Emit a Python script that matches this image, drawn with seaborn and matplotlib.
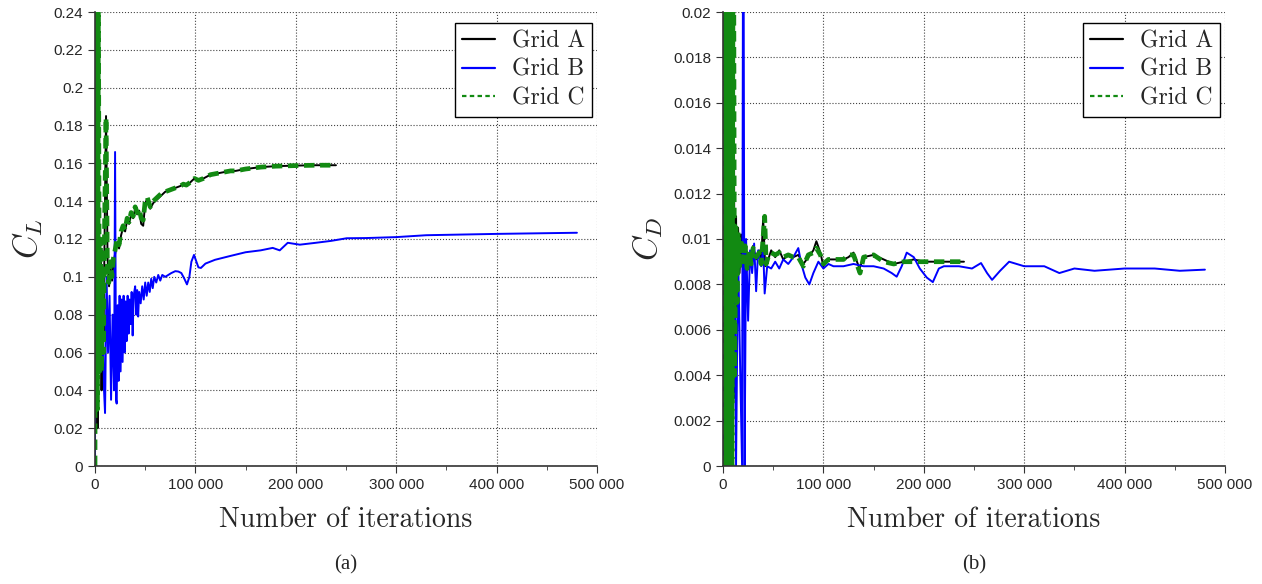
import numpy as np
import pandas as pd
import matplotlib
matplotlib.use("Agg")
import matplotlib.pyplot as plt
from matplotlib.ticker import FuncFormatter, MultipleLocator
import seaborn as sns

# ---- data ----
# lift coefficient
cl_a_iter = [0, 800, 1700, 2500, 3500, 4500, 5500, 6500, 7500, 8500, 9500, 11000, 12500, 14000,
             15500, 17000, 18500, 20000, 22000, 24000, 26000, 28000, 30000, 32000, 34000, 36000,
             38000, 40000, 42000, 44000, 46000, 48000, 50000, 52000, 55000, 58000, 62000, 66000,
             70000, 75000, 80000, 85000, 88000, 91000, 95000, 99000, 103000, 108000, 115000,
             125000, 135000, 140000, 150000, 165000, 180000, 200000, 220000, 240000]
cl_a = [0.0, 0.5, 0.35, 0.02, 0.26, 0.06, 0.11, 0.04, 0.09, 0.07, 0.12, 0.185, 0.11, 0.095,
        0.105, 0.098, 0.108, 0.112, 0.118, 0.115, 0.122, 0.126, 0.124, 0.130, 0.128, 0.133,
        0.131, 0.136, 0.133, 0.135, 0.128, 0.127, 0.139, 0.141, 0.136, 0.139, 0.141, 0.143,
        0.145, 0.146, 0.147, 0.148, 0.149, 0.148, 0.150, 0.152, 0.151, 0.152, 0.154,
        0.155, 0.156, 0.156, 0.157, 0.158, 0.1585, 0.1588, 0.159, 0.159]

cl_b_iter = [0, 1000, 2000, 3000, 4500, 6000, 7500, 9000, 10000, 11500, 13000, 14500, 16000,
             17500, 19000, 20000, 21000, 21600, 22500, 23500, 24500, 25500, 26500, 27500, 28500,
             29500, 30500, 31500, 32500, 33500, 34500, 35500, 36500, 37500, 38500, 40000, 41000,
             42000, 43000, 44000, 45500, 47000, 48500, 50000, 51500, 53000, 54500, 56000, 57500,
             59000, 61000, 63000, 65000, 67000, 70000, 73000, 76000, 80000, 83000, 86000, 89000,
             91600, 94000, 96000, 98600, 101000, 103000, 105500, 110000, 119500, 134500, 150000,
             165000, 177000, 184000, 192000, 204000, 220000, 235000, 250700, 270000, 300000,
             330000, 350000, 380000, 400000, 440000, 480000]
cl_b = [0.0, 0.5, 0.08, 0.06, 0.10, 0.05, 0.09, 0.04, 0.028, 0.10, 0.06, 0.09, 0.035, 0.08,
        0.04, 0.166, 0.035, 0.033, 0.085, 0.045, 0.090, 0.050, 0.088, 0.055, 0.090,
        0.060, 0.087, 0.066, 0.090, 0.070, 0.088, 0.075, 0.092, 0.069, 0.090, 0.095, 0.080,
        0.093, 0.079, 0.092, 0.086, 0.095, 0.088, 0.097, 0.090, 0.097, 0.092, 0.099, 0.094,
        0.100, 0.097, 0.101, 0.098, 0.101, 0.100, 0.101, 0.102, 0.103, 0.1028, 0.102, 0.099,
        0.096, 0.100, 0.108, 0.1116, 0.108, 0.105, 0.1047, 0.107, 0.109, 0.111, 0.113,
        0.114, 0.1153, 0.114, 0.118, 0.117, 0.118, 0.119, 0.1204, 0.1205, 0.121,
        0.122, 0.1222, 0.1225, 0.1227, 0.123, 0.1233]

cl_c_iter = [0, 700, 1600, 2400, 3400, 4400, 5400, 6400, 7400, 8400, 9600, 11000, 12400, 13800,
             15200, 16800, 18400, 20000, 22000, 24000, 26000, 28000, 30000, 32000, 34000, 36000,
             38000, 40000, 42000, 44000, 46000, 48000, 50000, 52000, 55000, 58000, 62000, 66000,
             70000, 75000, 80000, 85000, 88000, 91000, 95000, 99000, 103000, 108000, 115000,
             125000, 135000, 140000, 150000, 165000, 180000, 200000, 220000, 240000]
cl_c = [0.0, 0.5, 0.30, 0.03, 0.25, 0.05, 0.12, 0.05, 0.10, 0.06, 0.13, 0.184, 0.10, 0.097,
        0.108, 0.100, 0.110, 0.114, 0.120, 0.117, 0.124, 0.127, 0.125, 0.131, 0.129, 0.134,
        0.132, 0.137, 0.134, 0.136, 0.131, 0.130, 0.140, 0.142, 0.137, 0.140, 0.142, 0.144,
        0.145, 0.146, 0.147, 0.148, 0.149, 0.1485, 0.150, 0.152, 0.151, 0.152, 0.154,
        0.155, 0.156, 0.156, 0.157, 0.158, 0.1585, 0.1588, 0.159, 0.159]

# drag coefficient
cd_a_iter = [0, 1500, 3000, 4500, 6000, 7500, 9000, 10300, 11500, 13000, 14000, 15000, 16500,
             18000, 20000, 22000, 24000, 26000, 28000, 30000, 33000, 36000, 38000, 40000, 42000,
             45000, 48000, 52000, 56000, 60000, 65000, 70000, 75000, 80000, 85000, 90000, 93000,
             97000, 100000, 105000, 110000, 120000, 125000, 130000, 136000, 140000, 150000,
             160000, 170000, 180000, 190000, 200000, 210000, 220000, 230000, 240000]
cd_a = [0.0, 0.05, 0.0, 0.04, 0.0, 0.03, 0.001, 0.03, 0.003, 0.011, 0.007, 0.0105, 0.0085,
        0.0102, 0.0088, 0.0098, 0.0086, 0.0094, 0.0088, 0.0097, 0.0091, 0.0095, 0.0090, 0.0109,
        0.0088, 0.0091, 0.0095, 0.0092, 0.0095, 0.0091, 0.0093, 0.0092, 0.0093, 0.0089, 0.0092,
        0.0095, 0.0099, 0.0094, 0.0088, 0.0091, 0.0091, 0.0091, 0.0092, 0.0094, 0.0087,
        0.0092, 0.0093, 0.0091, 0.0089, 0.0090, 0.0091, 0.0090, 0.0090, 0.0090, 0.0090,
        0.0090]

cd_b_iter = [0, 1500, 3700, 5000, 7000, 9000, 10000, 11500, 13000, 15000, 17000, 19000, 20200,
             21500, 23000, 25000, 27000, 29000, 31000, 33000, 35000, 38000, 40000, 41500, 44000,
             48000, 52000, 56000, 60000, 65000, 70000, 75000, 78000, 82000, 86000, 90000, 95000,
             100000, 105000, 110000, 120000, 130000, 140000, 150000, 160000, 168000, 173000,
             178000, 183000, 190000, 196000, 203000, 209000, 215000, 220000, 235000, 248000,
             257000, 263000, 268000, 276000, 285000, 300000, 320000, 335000, 350000, 370000,
             400000, 430000, 455000, 480000]
cd_b = [0.0, 0.0, 0.03, 0.0, 0.001, 0.0095, 0.002, 0.010, 0.0, 0.0095, 0.0045, 0.0, 0.03,
        0.0, 0.010, 0.0064, 0.0095, 0.0085, 0.0098, 0.0077, 0.0095, 0.0088, 0.0096, 0.0076,
        0.0088, 0.0087, 0.0090, 0.0087, 0.0091, 0.0089, 0.0092, 0.0096, 0.0089, 0.0083, 0.0080,
        0.0085, 0.0090, 0.0087, 0.0089, 0.0088, 0.0088, 0.0089, 0.0088, 0.0088, 0.0087,
        0.0085, 0.00834, 0.0088, 0.0094, 0.0092, 0.0087, 0.0083, 0.0081, 0.0087, 0.0088,
        0.0088, 0.0087, 0.00894, 0.0085, 0.0082, 0.0086, 0.0090, 0.0088, 0.0088, 0.0085,
        0.0087, 0.0086, 0.0087, 0.0087, 0.0086, 0.00865]

cd_c_iter = [0, 1500, 3000, 4500, 6000, 7500, 9000, 10300, 11500, 13000, 14000, 15000, 16500,
             18000, 20000, 22000, 24000, 26000, 28000, 30000, 33000, 36000, 38000, 41500, 43000,
             45000, 48000, 52000, 56000, 60000, 65000, 70000, 75000, 80000, 85000, 90000, 93000,
             97000, 100000, 105000, 110000, 120000, 125000, 130000, 136500, 140000, 150000,
             160000, 170000, 180000, 190000, 200000, 210000, 220000, 230000, 240000]
cd_c = [0.0, 0.05, 0.0, 0.04, 0.0, 0.03, 0.0, 0.03, 0.004, 0.0105, 0.0072, 0.0103, 0.0087,
        0.0100, 0.0090, 0.0097, 0.0087, 0.0095, 0.0089, 0.0096, 0.0092, 0.0094, 0.0089, 0.0110,
        0.0089, 0.0092, 0.0094, 0.0093, 0.0094, 0.0092, 0.0093, 0.0092, 0.0092, 0.0088, 0.0093,
        0.0094, 0.0096, 0.0093, 0.0089, 0.0091, 0.0091, 0.0091, 0.0093, 0.0093, 0.0085,
        0.0092, 0.0093, 0.0090, 0.0089, 0.0090, 0.0090, 0.0090, 0.0090, 0.0090, 0.0090,
        0.0090]

grids = ["Grid A", "Grid B", "Grid C"]
colors = {"Grid A": "black", "Grid B": "#0000ff", "Grid C": "#128a12"}

sns.set_style("white")
plt.rcParams['mathtext.fontset'] = 'cm'

fig = plt.figure(figsize=(12.62, 5.84), dpi=100)
ax1 = fig.add_axes([95 / 1262, 118 / 584, 502 / 1262, 454 / 584])
ax2 = fig.add_axes([723 / 1262, 118 / 584, 502 / 1262, 454 / 584])


def thousands(v, pos):
    return f"{int(v):,}".replace(",", " ")


def draw(ax, series, ymax, ystep, ylabel, tag):
    for name, (xs, ys) in zip(grids, series):
        if name == "Grid C":
            sns.lineplot(x=xs, y=ys, ax=ax, color=colors[name], lw=3.4,
                         dashes=False, label=name, estimator=None, sort=False)
            ax.lines[-1].set_linestyle((0, (2.2, 1.2)))
        else:
            sns.lineplot(x=xs, y=ys, ax=ax, color=colors[name], lw=1.4,
                         label=name, estimator=None, sort=False)
    ax.set_xlim(0, 500000)
    ax.set_ylim(0, ymax)
    ax.xaxis.set_major_locator(MultipleLocator(100000))
    ax.xaxis.set_minor_locator(MultipleLocator(50000))
    ax.yaxis.set_major_locator(MultipleLocator(ystep))
    ax.xaxis.set_major_formatter(FuncFormatter(thousands))
    ax.yaxis.set_major_formatter(FuncFormatter(lambda v, p: f"{v:g}"))
    ax.grid(True, which="major", color="#444444", ls=":", lw=0.8)
    for s in ["top", "right"]:
        ax.spines[s].set_visible(False)
    for s in ["left", "bottom"]:
        ax.spines[s].set_color("#333333")
        ax.spines[s].set_linewidth(1.2)
    ax.tick_params(axis="both", which="both", direction="out", bottom=True, left=True,
                   labelsize=11, color="#333333")
    ax.tick_params(axis="both", which="major", length=5)
    ax.tick_params(axis="x", which="minor", length=3)
    for lab in ax.get_xticklabels() + ax.get_yticklabels():
        lab.set_family("Liberation Sans")
    ax.set_xlabel("Number of iterations", family="cmr10", fontsize=20, labelpad=11)
    ax.set_ylabel(ylabel, fontsize=24, labelpad=6)
    ax.text(0.5, -0.218, tag, transform=ax.transAxes, ha="center", va="center",
            family="Liberation Serif", fontsize=15)
    leg = ax.legend(loc="upper right", frameon=True,
                    fancybox=False, edgecolor="black", framealpha=1,
                    prop={"family": "cmr10", "size": 17}, handlelength=1.4,
                    borderpad=0.3, labelspacing=0.28, handletextpad=0.7,
                    borderaxespad=0.0, bbox_to_anchor=(0.99, 0.976))
    leg.get_frame().set_linewidth(1.0)
    for h in leg.get_lines():
        h.set_linewidth(1.6)
        if h.get_color() == colors["Grid C"]:
            h.set_linestyle((0, (2, 1.5)))


draw(ax1, [(cl_a_iter, cl_a), (cl_b_iter, cl_b), (cl_c_iter, cl_c)], 0.24, 0.02, r"$C_L$", "(a)")
draw(ax2, [(cd_a_iter, cd_a), (cd_b_iter, cd_b), (cd_c_iter, cd_c)], 0.02, 0.002, r"$C_D$", "(b)")

fig.savefig("out.png", dpi=100)
